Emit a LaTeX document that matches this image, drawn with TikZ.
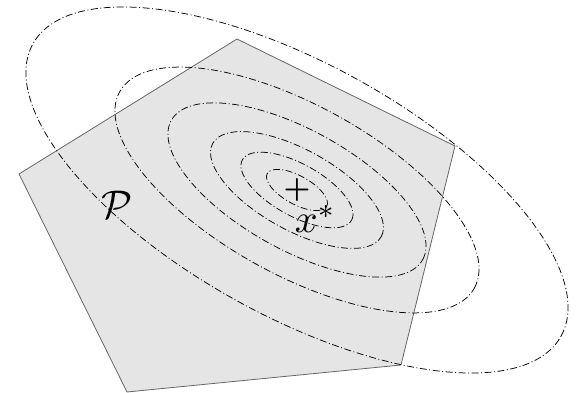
\documentclass[tikz,border=0pt]{standalone}
\usetikzlibrary{calc}
\begin{document}
\begin{tikzpicture}[x=1pt,y=1pt,
  poly/.style={draw=black!60,fill=black!10,line width=0.8pt,line join=miter},
  contour/.style={draw=black,line width=0.75pt,dash pattern=on 7pt off 2.5pt on 1pt off 2.5pt},
  lbl/.style={inner sep=0pt,scale=4},
  mark plus/.style={inner sep=0pt,scale=3.0,font=\boldmath}]
\useasboundingbox (0,0) rectangle (581,393);
\coordinate (c) at (297,203);
\draw[poly] (237,354) -- (455,247) -- (401,28) -- (127,1) -- (19,219) -- cycle;
\begin{scope}[rotate around={-28.95:(c)}]
  \draw[contour] (c) ellipse [x radius=301.8, y radius=126.0];
  \draw[contour] (c) ellipse [x radius=202.7, y radius=84.6];
  \draw[contour] (c) ellipse [x radius=143.7, y radius=60.0];
  \draw[contour] (c) ellipse [x radius=96.3, y radius=40.2];
  \draw[contour] (c) ellipse [x radius=62.4, y radius=26.0];
  \draw[contour] (c) ellipse [x radius=34.0, y radius=14.2];
\end{scope}
\node[mark plus] (plus) at (c) {$+$};
\node[lbl,anchor=base west] (xs) at (294,160) {$x^*$};
\node[lbl,anchor=base west] (P) at (101,174) {$\mathcal{P}$};
\end{tikzpicture}
\end{document}
